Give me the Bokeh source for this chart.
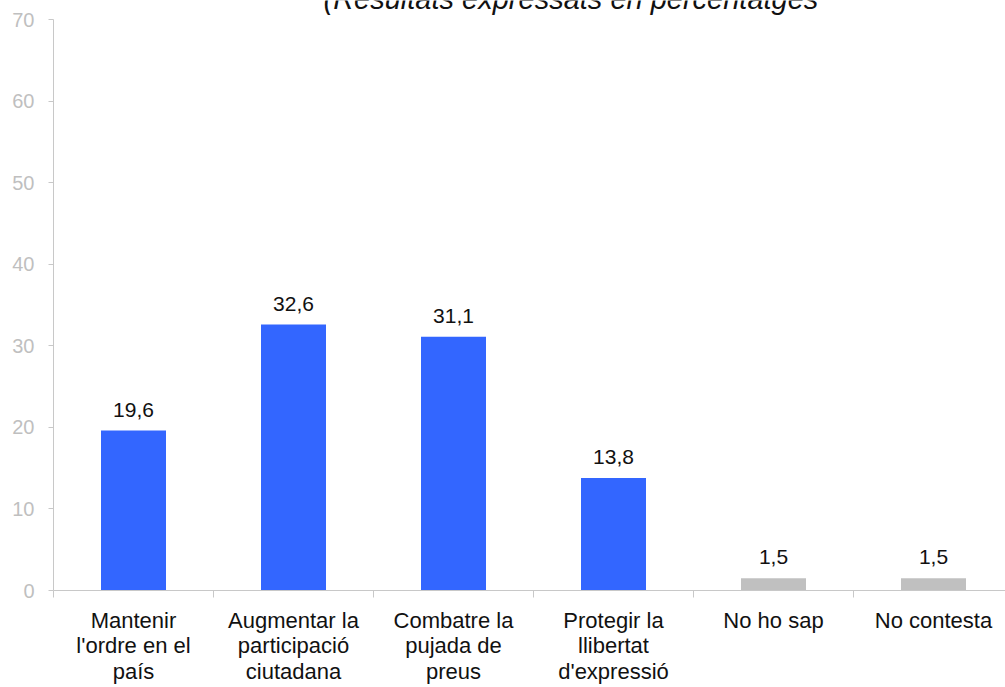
from bokeh.plotting import figure
from bokeh.models import ColumnDataSource, FixedTicker, Range1d, Label
from bokeh.embed import file_html
from bokeh.resources import INLINE
from bokeh.core.properties import value

# ---- data ----
categories = [
    "Mantenir\nl'ordre en el\npaís",
    "Augmentar la\nparticipació\nciutadana",
    "Combatre la\npujada de\npreus",
    "Protegir la\nllibertat\nd'expressió",
    "No ho sap",
    "No contesta",
]
values = [19.6, 32.6, 31.1, 13.8, 1.5, 1.5]
bar_colors = ["#3366FF", "#3366FF", "#3366FF", "#3366FF", "#C0C0C0", "#C0C0C0"]
y_ticks = [0, 10, 20, 30, 40, 50, 60, 70]
title_text = "(Resultats expressats en percentatges"

# ---- styling / layout ----
FONT = "Liberation Sans"
AXIS_COLOR = "#C8C8C8"
W, H = 1005, 687
CAT_PX = 160            # pixel width of one category slot
FRAME_LEFT = 53
TOP_PAD = 19            # pixels between canvas top and the 70 tick
FRAME_BOTTOM_BORDER = 97
FRAME_W = W - FRAME_LEFT
Y_MAX = y_ticks[-1]
PX_PER_UNIT = (H - TOP_PAD - FRAME_BOTTOM_BORDER) / Y_MAX

n = len(categories)
xs = [i + 0.5 for i in range(n)]
labels = [f"{v:.1f}".replace(".", ",") for v in values]
src = ColumnDataSource(dict(x=xs, top=values, color=bar_colors, label=labels))

p = figure(
    width=W, height=H, output_backend="svg", toolbar_location=None,
    x_range=Range1d(0, FRAME_W / CAT_PX),
    y_range=Range1d(0, Y_MAX + TOP_PAD / PX_PER_UNIT),
    min_border_left=FRAME_LEFT, min_border_right=0,
    min_border_top=0, min_border_bottom=FRAME_BOTTOM_BORDER,
)
p.outline_line_color = None
p.xgrid.visible = False
p.ygrid.visible = False
p.background_fill_color = "white"
p.border_fill_color = "white"

p.vbar(x="x", top="top", bottom=0, width=65 / CAT_PX, fill_color="color",
       line_color=None, source=src)
p.text(x="x", y="top", text="label", source=src, text_align="center",
       text_baseline="alphabetic", y_offset=-21, text_font=value(FONT),
       text_font_size="21px", text_color="#111111")

# y axis
ya = p.yaxis[0]
ya.ticker = FixedTicker(ticks=y_ticks, minor_ticks=[])
ya.bounds = (0, Y_MAX)
ya.axis_line_color = AXIS_COLOR
ya.major_tick_line_color = AXIS_COLOR
ya.major_tick_out = 5
ya.major_tick_in = 0
ya.minor_tick_out = 0
ya.minor_tick_in = 0
ya.major_label_standoff = 14
ya.major_label_text_font = FONT
ya.major_label_text_font_size = "20px"
ya.major_label_text_color = "#BFBFBF"

# x axis
xa = p.xaxis[0]
xa.ticker = FixedTicker(ticks=xs, minor_ticks=list(range(n + 1)))
xa.major_label_overrides = {x: c for x, c in zip(xs, categories)}
xa.axis_line_color = AXIS_COLOR
xa.major_tick_out = 0
xa.major_tick_in = 0
xa.minor_tick_out = 7
xa.minor_tick_in = 0
xa.minor_tick_line_color = AXIS_COLOR
xa.major_label_standoff = 10
xa.major_label_text_font = FONT
xa.major_label_text_font_size = "22px"
xa.major_label_text_color = "#111111"
xa.major_label_text_line_height = 1.03

# title (partly cut off at the top edge, as in the reference)
p.add_layout(Label(
    x=(323 - FRAME_LEFT) / CAT_PX, y=Y_MAX + (TOP_PAD + 2) / PX_PER_UNIT,
    text=title_text,
    text_font=FONT, text_font_style="italic", text_font_size="29px",
    text_color="#111111", text_baseline="middle", text_align="left",
))

open("out.html", "w").write(file_html(p, INLINE))
